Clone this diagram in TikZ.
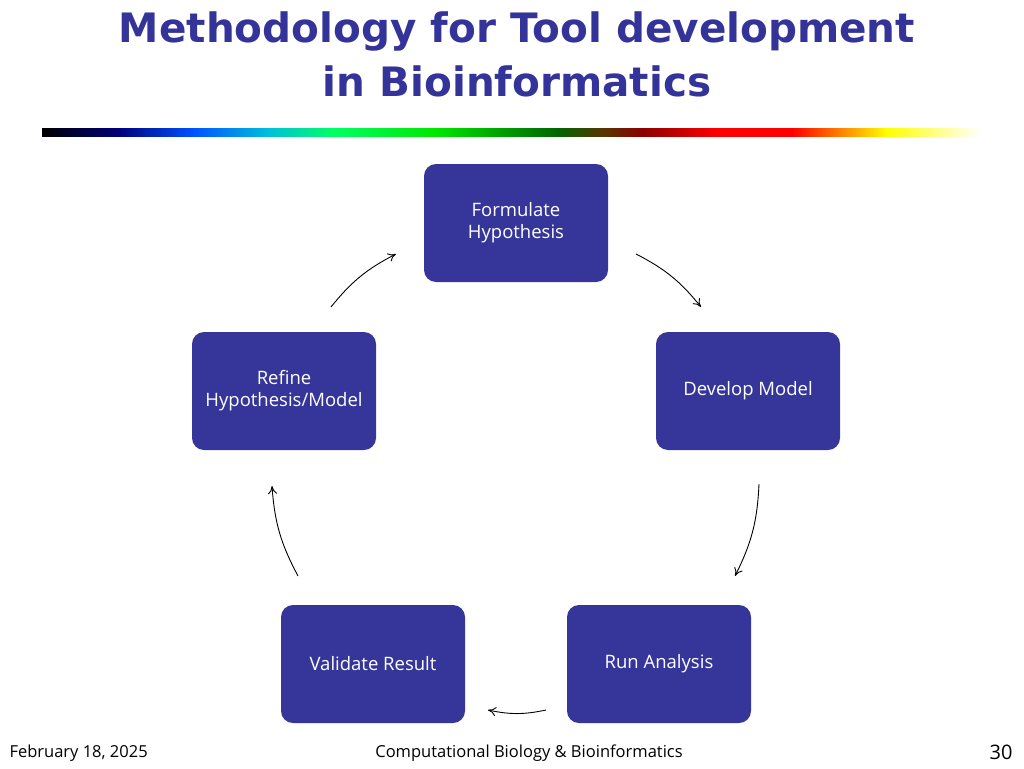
\documentclass[tikz,border=0pt]{standalone}
\usepackage{fontspec}
\setmainfont{DejaVu Sans}
\newfontfamily\bodyf{Open Sans}
\usetikzlibrary{arrows.meta}
\definecolor{boxc}{HTML}{35359A}
\definecolor{titc}{HTML}{333399}
\begin{document}
\begin{tikzpicture}[x=1pt,y=-1pt,
  stage/.style={fill=boxc,rounded corners=12pt,minimum width=184pt,minimum height=118pt,text=white,align=center,font=\bodyf\fontsize{18.5}{22}\selectfont},
  flow/.style={-{To[length=8pt,width=9pt]},line width=0.9pt,black}]
\useasboundingbox (0,0) rectangle (1024,768);
\node[text=titc,align=center,font=\bfseries\fontsize{40.5}{54}\selectfont] (title) at (517,54) {Methodology for Tool development\\in Bioinformatics};
\foreach \a/\b/\ca/\cb in {0/0.08/black/{rgb,255:red,0;green,0;blue,120},0.08/0.16/{rgb,255:red,0;green,0;blue,120}/{rgb,255:red,0;green,80;blue,255},0.16/0.24/{rgb,255:red,0;green,80;blue,255}/{rgb,255:red,0;green,190;blue,220},0.24/0.31/{rgb,255:red,0;green,190;blue,220}/{rgb,255:red,0;green,255;blue,100},0.31/0.42/{rgb,255:red,0;green,255;blue,100}/{rgb,255:red,0;green,230;blue,0},0.42/0.55/{rgb,255:red,0;green,230;blue,0}/{rgb,255:red,0;green,100;blue,0},0.55/0.6/{rgb,255:red,0;green,100;blue,0}/{rgb,255:red,90;green,50;blue,0},0.6/0.64/{rgb,255:red,90;green,50;blue,0}/{rgb,255:red,140;green,0;blue,0},0.64/0.72/{rgb,255:red,140;green,0;blue,0}/{rgb,255:red,255;green,0;blue,0},0.72/0.8/red/red,0.8/0.9/red/yellow,0.9/1/yellow/white}{
  \shade[left color=\ca,right color=\cb] (42+938*\a,128) rectangle (42.5+938*\b,136);
}
\node[stage] (f) at (516,223) {Formulate\\Hypothesis};
\node[stage] (d) at (748,391) {Develop Model};
\node[stage] (r) at (659,664) {Run Analysis};
\node[stage] (v) at (373,664) {Validate Result};
\node[stage] (h) at (284,391) {Refine\\Hypothesis/Model};
\coordinate (a1) at (636,254); \coordinate (b1) at (701,307);
\coordinate (a2) at (759,484); \coordinate (b2) at (735,576);
\coordinate (a3) at (546,710); \coordinate (b3) at (488,710);
\coordinate (a4) at (298,576); \coordinate (b4) at (272,486);
\coordinate (a5) at (331,307); \coordinate (b5) at (396,254);
\draw[flow] (a1) to[bend left=12] (b1);
\draw[flow] (a2) to[bend left=12] (b2);
\draw[flow] (a3) to[bend left=12] (b3);
\draw[flow] (a4) to[bend left=12] (b4);
\draw[flow] (a5) to[bend left=12] (b5);
\node[anchor=west,font=\bodyf\fontsize{16.5}{19}\selectfont] (date) at (6,753) {February 18, 2025};
\node[font=\bodyf\fontsize{16.5}{19}\selectfont] (foot) at (529,753) {Computational Biology \& Bioinformatics};
\node[anchor=east,font=\bodyf\fontsize{20}{23}\selectfont] (pg) at (1016,752) {30};
\end{tikzpicture}
\end{document}
